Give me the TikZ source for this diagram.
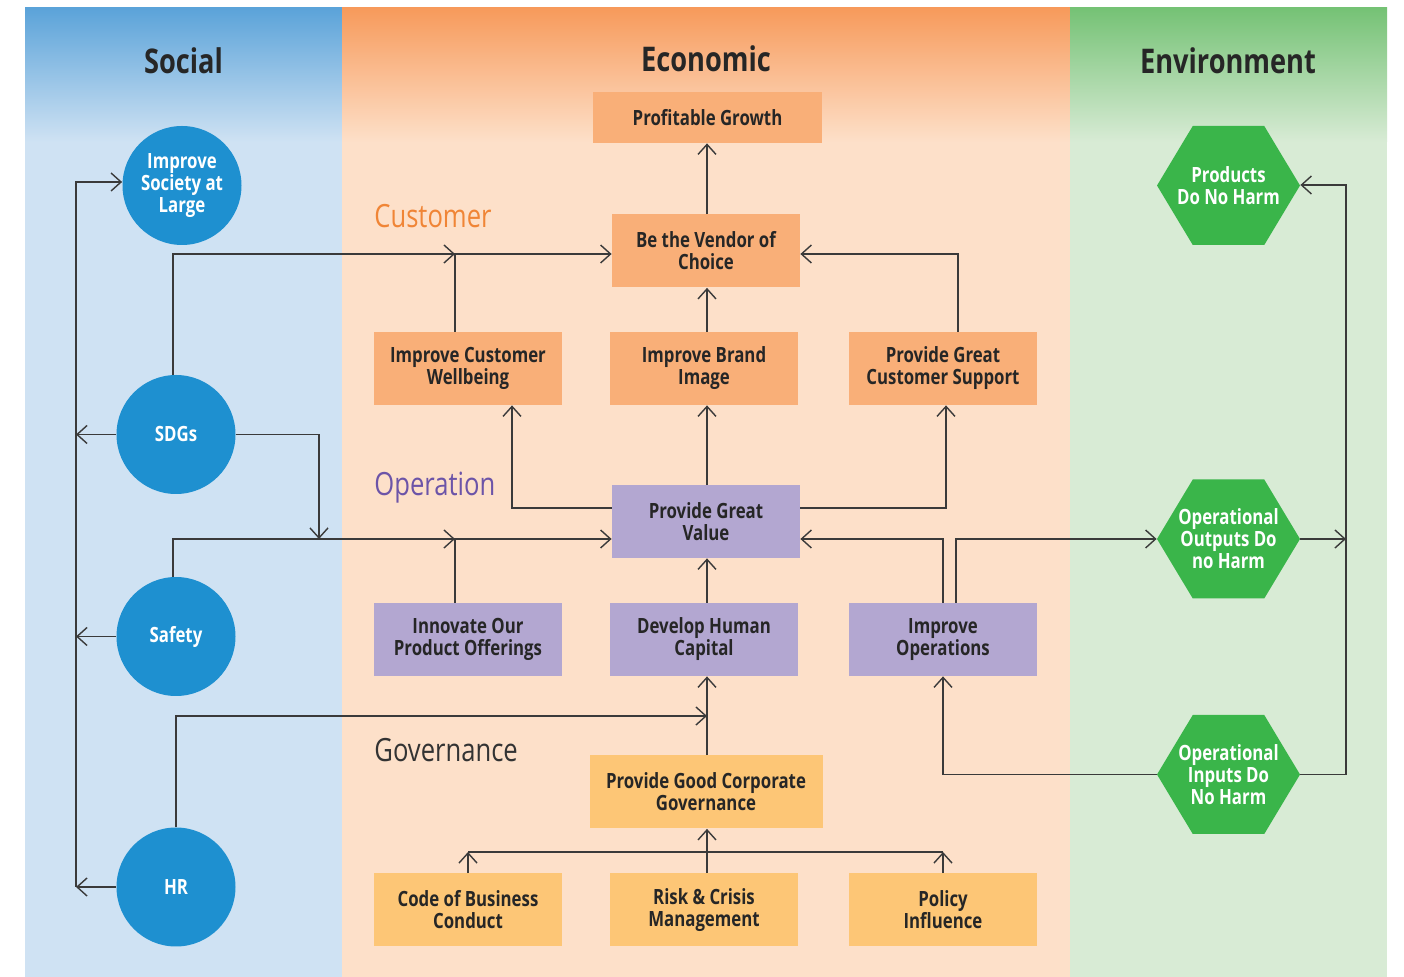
\documentclass[tikz,border=0pt]{standalone}
\usepackage{fontspec}
\setmainfont{Open Sans}[FakeStretch=0.8]
\usetikzlibrary{arrows.meta,calc}
\definecolor{socTop}{HTML}{5BA3D9}
\definecolor{socLight}{HTML}{CFE2F3}
\definecolor{ecoTop}{HTML}{F79A5B}
\definecolor{ecoLight}{HTML}{FDE0C9}
\definecolor{envTop}{HTML}{75C275}
\definecolor{envLight}{HTML}{D8EBD5}
\definecolor{circBlue}{HTML}{1E90D0}
\definecolor{hexGreen}{HTML}{3AB54A}
\definecolor{orangeBox}{HTML}{F9AF78}
\definecolor{purpleBox}{HTML}{B3A7D1}
\definecolor{goldBox}{HTML}{FDC676}
\definecolor{lineCol}{HTML}{3A3A3A}
\definecolor{txt}{HTML}{262626}
\definecolor{custOrange}{HTML}{F08536}
\definecolor{operPurple}{HTML}{6C54A8}
\definecolor{govGray}{HTML}{333333}
\newcommand\mybxfont{\bfseries\fontsize{10.5}{11}\selectfont}
\newcommand\myhdfont{\bfseries\fontsize{17}{20}\selectfont}
\newcommand\mysecfont{\fontsize{16}{19}\selectfont}
\begin{document}
\begin{tikzpicture}[x=0.5pt,y=-0.5pt,
  box/.style={rectangle, minimum width=94pt, minimum height=36.5pt, inner sep=2pt,
    align=center, text=txt, font=\mybxfont},
  obox/.style={box, fill=orangeBox},
  pbox/.style={box, fill=purpleBox},
  gbox/.style={box, fill=goldBox},
  circ/.style={circle, fill=circBlue, minimum size=59.5pt, inner sep=0pt,
    align=center, text=white, font=\mybxfont},
  hex/.style={rectangle, minimum width=71.5pt, minimum height=59.5pt, inner sep=0pt,
    align=center, text=white, font=\mybxfont,
    path picture={\fill[hexGreen] (path picture bounding box.west)
      -- ($(path picture bounding box.north west)!0.25!(path picture bounding box.north east)$)
      -- ($(path picture bounding box.north west)!0.75!(path picture bounding box.north east)$)
      -- (path picture bounding box.east)
      -- ($(path picture bounding box.south west)!0.75!(path picture bounding box.south east)$)
      -- ($(path picture bounding box.south west)!0.25!(path picture bounding box.south east)$)
      -- cycle;}},
  heading/.style={anchor=base, inner sep=0pt, font=\myhdfont, text=txt},
  seclabel/.style={anchor=base west, inner sep=0pt, font=\mysecfont},
  conn/.style={draw=lineCol, line width=0.7pt},
  arr/.style={conn, -{Straight Barb[length=5pt,width=9pt]}}
]
\useasboundingbox (0,0) rectangle (1404,977);
\fill[white] (0,0) rectangle (1404,977);
% panels
\shade[top color=socTop, bottom color=socLight] (25,8) rectangle (342,142);
\fill[socLight] (25,142) rectangle (342,977);
\shade[top color=ecoTop, bottom color=ecoLight] (342,8) rectangle (1070,142);
\fill[ecoLight] (342,142) rectangle (1070,977);
\shade[top color=envTop, bottom color=envLight] (1070,8) rectangle (1387,142);
\fill[envLight] (1070,142) rectangle (1387,977);

% headings
\node[heading] (hsoc) at (183.5,74) {Social};
\node[heading] (heco) at (706,72) {Economic};
\node[heading] (henv) at (1228,74) {Environment};
\node[seclabel, text=custOrange] (lcust) at (374,228) {Customer};
\node[seclabel, text=operPurple] (loper) at (374,496) {Operation};
\node[seclabel, text=govGray] (lgov) at (374,762) {Governance};

% economic boxes
\node[obox, minimum width=114.5pt, minimum height=25.5pt] (pg) at (707.5,117.5) {Profitable Growth};
\node[obox] (vendor) at (706,251) {Be the Vendor of\\Choice};
\node[obox] (wellbeing) at (468,368.5) {Improve Customer\\Wellbeing};
\node[obox] (brand) at (704,368.5) {Improve Brand\\Image};
\node[obox] (support) at (943,368.5) {Provide Great\\Customer Support};
\node[pbox] (pgv) at (706,521.5) {Provide Great\\Value};
\node[pbox] (innovate) at (468,639.5) {Innovate Our\\Product Offerings};
\node[pbox] (dhc) at (704,639.5) {Develop Human\\Capital};
\node[pbox] (impops) at (943,639.5) {Improve\\Operations};
\node[gbox, minimum width=116.5pt] (gov) at (706,792) {Provide Good Corporate\\Governance};
\node[gbox] (code) at (468,910) {Code of Business\\Conduct};
\node[gbox] (risk) at (704,910) {Risk \& Crisis\\Management};
\node[gbox] (policy) at (943,910) {Policy\\Influence};

% social circles
\node[circ] (soc) at (182,185.5) {Improve\\Society at\\Large};
\node[circ] (sdg) at (176,434.5) {SDGs};
\node[circ] (saf) at (176,636.5) {Safety};
\node[circ] (hr) at (176,887) {HR};

% environment hexagons
\node[hex] (prod) at (1228.5,185.5) {Products\\Do No Harm};
\node[hex] (out) at (1228.5,539) {Operational\\Outputs Do\\no Harm};
\node[hex] (inp) at (1228.5,774.5) {Operational\\Inputs Do\\No Harm};

% helper coordinates
\coordinate (sp) at (707,0);
\coordinate (j1) at (455,254);
\coordinate (j2) at (455,539);
\coordinate (j3) at (319,539);
\coordinate (j4) at (707,716);
\coordinate (j5) at (707,852);
\coordinate (j6) at (512,508);
\coordinate (j7) at (946,508);
\coordinate (j8) at (943,539);
\coordinate (j9) at (956,539);
\coordinate (rail) at (76,182);
\coordinate (erail) at (1346,185);

% connectors
\draw[arr] (vendor.north -| sp) -- (pg.south -| sp);
\draw[arr] (brand.north -| sp) -- (vendor.south -| sp);
\draw[arr] ([xshift=-1.5pt]sdg.north) |- (vendor.west |- j1);
\draw[arr] ($(j1)+(-12,0)$) -- (j1);
\draw[conn] (wellbeing.north -| j1) -- (j1);
\draw[arr] ([xshift=7.5pt]support.north) |- (vendor.east |- j1);
\draw[arr] (pgv.west |- j6) -| (wellbeing.south -| j6);
\draw[arr] (pgv.east |- j7) -| (support.south -| j7);
\draw[arr] (pgv.north -| sp) -- (brand.south -| sp);
\draw[arr] ([xshift=-1.5pt]saf.north) |- (pgv.west |- j2);
\draw[arr] ($(j2)+(-12,0)$) -- (j2);
\draw[conn] (innovate.north -| j2) -- (j2);
\draw[arr] (sdg.east) -| (j3);
\draw[arr] (dhc.north -| sp) -- (pgv.south -| sp);
\draw[arr] (impops.north -| j8) -- (j8) -- (pgv.east |- j8);
\draw[arr] (impops.north -| j9) -- (j9) -- (out.west |- j9);
\draw[arr] (out.east |- j9) -- (erail |- j9);
\draw[arr] (inp.east) -| (erail) -- (prod.east |- erail);
\draw[arr] (inp.west) -| (impops.south);
\draw[arr] (hr.north) |- (j4);
\draw[arr] (gov.north -| sp) -- (dhc.south -| sp);
\draw[arr] (risk.north -| sp) -- (gov.south -| sp);
\draw[conn] (code.north |- j5) -- (policy.north |- j5);
\draw[arr] (code.north) -- (code.north |- j5);
\draw[arr] (policy.north) -- (policy.north |- j5);
\draw[arr] (sdg.west) -- (sdg.west -| rail);
\draw[arr] (saf.west) -- (saf.west -| rail);
\draw[arr] (hr.west) -- (hr.west -| rail);
\draw[arr] (hr.west -| rail) -- (rail) -- (soc.west |- rail);
\end{tikzpicture}
\end{document}
